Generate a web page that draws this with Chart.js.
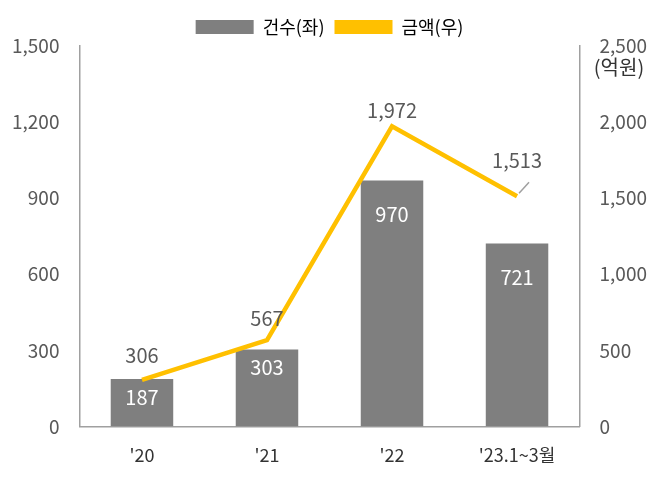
<!DOCTYPE html><html><head><meta charset="utf-8">
<script src="https://cdn.jsdelivr.net/npm/chart.js@4/dist/chart.umd.min.js"></script>
<style>body{margin:0;background:#fff}</style></head><body><canvas id="c" width="669" height="481"></canvas>
<script>
const categories=["'20","'21","'22","'23.1~3월"];
const counts=[187,303,970,721];
const amounts=[306,567,1972,1513];
const leftTicks=[0,300,600,900,1200,1500];
const rightTicks=[0,500,1000,1500,2000,2500];
const F='"Noto Sans CJK KR","Noto Sans",sans-serif';
const labels={id:'lbl',afterDatasetsDraw(ch){const x=ch.ctx;x.save();x.font='20px '+F;x.textAlign='center';
 const b=ch.getDatasetMeta(0).data,l=ch.getDatasetMeta(1).data;
 x.fillStyle='#fff';x.textBaseline='top';b.forEach((e,i)=>x.fillText(counts[i].toLocaleString('en-US'),e.x,e.y+(i<2?8:24)));
 x.fillStyle='#595959';x.textBaseline='bottom';
 l.forEach((e,i)=>{let dx=0,dy=-12;if(i==0)dy=-14;if(i==1)dy=-12;if(i==2)dy=-6;if(i==3){dx=0;dy=-26;
  x.strokeStyle='#a0a0a0';x.lineWidth=1.5;x.beginPath();x.moveTo(e.x+2,e.y-3);x.lineTo(e.x+12,e.y-14);x.stroke();}
  x.fillText(amounts[i].toLocaleString('en-US'),e.x+dx,e.y+dy);});
 x.fillStyle='#333';x.textAlign='center';x.textBaseline='middle';x.fillText('(억원)',ch.scales.y2.right-40,67);
 x.restore();}};
new Chart(document.getElementById('c'),{data:{labels:categories,datasets:[
 {type:'bar',label:'건수(좌)',data:counts,backgroundColor:'#7f7f7f',barPercentage:0.5,categoryPercentage:1,yAxisID:'y',order:2},
 {type:'line',label:'금액(우)',data:amounts,borderColor:'#FFC000',backgroundColor:'#FFC000',borderWidth:4.5,pointRadius:0,yAxisID:'y2',order:1}]},
 options:{responsive:false,animation:false,layout:{padding:{top:8,left:0,right:10,bottom:5}},
 plugins:{legend:{position:'top',labels:{font:{family:F,size:18},color:'#333',boxWidth:58,boxHeight:14,padding:10,
  generateLabels(ch){return ch.data.datasets.map((d,i)=>({text:d.label,fillStyle:d.type==='bar'?'#7f7f7f':'#FFC000',strokeStyle:'#FFC000',lineWidth:0,datasetIndex:i}));}}},tooltip:{enabled:false}},
 scales:{x:{grid:{display:false},border:{color:'#a0a0a0',width:1.5},ticks:{font:{family:F,size:18},color:'#333',padding:10}},
 y:{position:'left',min:0,max:1500,afterBuildTicks(a){a.ticks=leftTicks.map(v=>({value:v}))},grid:{display:false},border:{color:'#a0a0a0',width:1.5},ticks:{font:{family:F,size:19},color:'#595959',padding:12,callback:v=>v.toLocaleString('en-US')}},
 y2:{position:'right',min:0,max:2500,afterBuildTicks(a){a.ticks=rightTicks.map(v=>({value:v}))},grid:{display:false},border:{color:'#a0a0a0',width:1.5},ticks:{font:{family:F,size:19},color:'#595959',padding:12,callback:v=>v.toLocaleString('en-US')}}}},
 plugins:[labels]});
</script></body></html>
